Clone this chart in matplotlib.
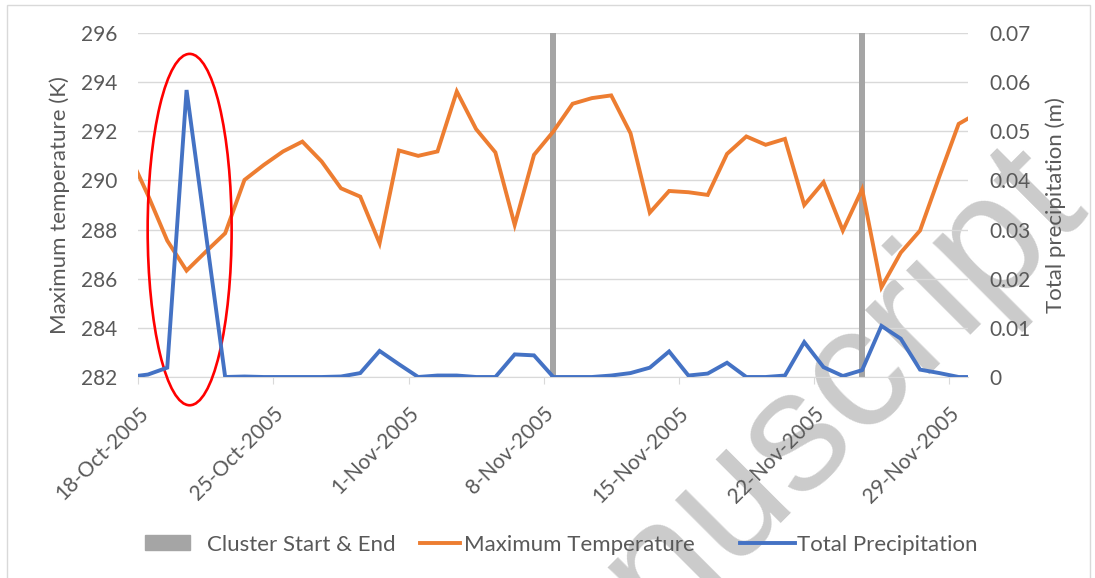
import numpy as np
import pandas as pd
import matplotlib
matplotlib.use('Agg')
import matplotlib.pyplot as plt
import matplotlib.dates as mdates
from matplotlib.patches import Ellipse, Rectangle
from matplotlib.lines import Line2D

# datos diarios (17-Oct-2005 .. 30-Nov-2005)
dates = pd.date_range('2005-10-17', '2005-11-30', freq='D')
max_temp = [291.1, 289.4, 287.55, 286.33, 287.1, 287.85, 290.02, 290.63, 291.18,
            291.58, 290.77, 289.68, 289.34, 287.44, 291.22, 291.0, 291.18, 293.62,
            292.09, 291.14, 288.19, 291.04, 291.99, 293.12, 293.35, 293.46, 291.92,
            288.69, 289.57, 289.52, 289.41, 291.08, 291.79, 291.45, 291.69, 289.0,
            289.93, 287.96, 289.64, 285.65, 287.06, 287.96, 290.16, 292.3, 292.75]
total_precip = [0.0, 0.0005, 0.0019, 0.0584, 0.0292, 0.0, 0.0001, 0.0, 0.0,
                0.0, 0.0, 0.0001, 0.0008, 0.0053, 0.0026, 0.0, 0.0003, 0.0003,
                0.0, 0.0, 0.0046, 0.0044, 0.0, 0.0, 0.0, 0.0003, 0.0008,
                0.0019, 0.0052, 0.0003, 0.0007, 0.0029, 0.0, 0.0, 0.0003, 0.0071,
                0.002, 0.0002, 0.0014, 0.0104, 0.0078, 0.0015, 0.0008, 0.0, 0.0]
cluster_dates = pd.to_datetime(['2005-11-08', '2005-11-24'])
tick_dates = pd.date_range('2005-10-18', periods=7, freq='7D')
temp_ticks = [282, 284, 286, 288, 290, 292, 294, 296]
precip_ticks = [0, 0.01, 0.02, 0.03, 0.04, 0.05, 0.06, 0.07]
legend_labels = ['Cluster Start & End', 'Maximum Temperature', 'Total Precipitation']

plt.rcParams['font.family'] = ['Lato', 'DejaVu Sans']
gris_texto = '#595959'
gris_linea = '#d9d9d9'
naranja = '#ED7D31'
azul = '#4472C4'
gris_barra = '#A5A5A5'

W, H = 1095, 578
fig = plt.figure(figsize=(W / 100, H / 100), dpi=100)

# marca de agua (detras de todo)
fig.text(759 / W, 1 - 471 / H, 'manuscript', rotation=45, fontsize=124,
         color='#cbcbcb', ha='center', va='center', family='Liberation Sans',
         zorder=-1)

# borde del area del grafico
fig.patches.append(Rectangle((7 / W, -0.1), (1090 - 7) / W, 1 - 5 / H + 0.1,
                             transform=fig.transFigure, fill=False,
                             ec=gris_linea, lw=1))

ax = fig.add_axes([138.3 / W, 1 - 377 / H, 830 / W, 344 / H])
ax.set_facecolor('none')
ax2 = ax.twinx()

mid = pd.Timedelta(hours=12)
x = dates + mid

# columnas "Cluster Start & End"
ax.bar(cluster_dates + mid, temp_ticks[-1] - temp_ticks[0], bottom=temp_ticks[0],
       width=0.3, color=gris_barra, zorder=2)
ax.plot(x, max_temp, color=naranja, lw=2.8, zorder=3, solid_joinstyle='miter')
ax2.plot(x, total_precip, color=azul, lw=2.8, zorder=3, solid_joinstyle='miter')

# elipse roja alrededor del pico
peak = x[int(np.argmax(total_precip))]
ell = Ellipse((mdates.date2num(peak) + 0.16, 288.0), 4.35, 14.3,
              fill=False, ec='red', lw=1.9, clip_on=False, zorder=5)
ax.add_patch(ell)

ax.set_xlim(tick_dates[0], pd.Timestamp('2005-11-30'))
ax.set_ylim(temp_ticks[0], temp_ticks[-1])
ax2.set_ylim(precip_ticks[0], precip_ticks[-1])
ax.set_yticks(temp_ticks)
ax2.set_yticks(precip_ticks)
ax2.set_yticklabels([f'{v:g}' for v in precip_ticks])
ax.set_xticks(tick_dates)
ax.xaxis.set_major_formatter(mdates.DateFormatter('%-d-%b-%Y'))

ax.yaxis.grid(True, color=gris_linea, lw=1)
ax.set_axisbelow(True)
for a in (ax, ax2):
    for s in ('left', 'right', 'top', 'bottom'):
        a.spines[s].set_visible(False)
ax.spines['bottom'].set_visible(True)
ax.spines['bottom'].set_color(gris_linea)

ax.tick_params(axis='y', length=0, pad=15, labelsize=15, labelcolor=gris_texto)
ax2.tick_params(axis='y', length=0, pad=15.5, labelsize=15, labelcolor=gris_texto)
ax.tick_params(axis='x', length=5, color=gris_linea, pad=14, labelsize=15,
               labelcolor=gris_texto)
plt.setp(ax.get_xticklabels(), rotation=45, ha='right', va='top',
         rotation_mode='anchor')

ax.set_ylabel('Maximum temperature (K)', fontsize=16, color=gris_texto)
ax.yaxis.set_label_coords(-0.0823, 0.5)
ax2.set_ylabel('Total precipitation (m)', fontsize=16, color=gris_texto)
ax2.yaxis.set_label_coords(1.0924, 0.5)

# leyenda (colocada a mano como en el original)
ly = 1 - 543 / H
fig.patches.append(Rectangle((145 / W, 1 - 550 / H), 45 / W, 15 / H,
                             transform=fig.transFigure, color=gris_barra))
fig.lines.append(Line2D([420 / W, 460 / W], [ly, ly], transform=fig.transFigure,
                        color=naranja, lw=2.8))
fig.lines.append(Line2D([740 / W, 795 / W], [ly, ly], transform=fig.transFigure,
                        color=azul, lw=2.8))
for xt, txt in zip([207, 464, 797], legend_labels):
    fig.text(xt / W, ly, txt, fontsize=16, color=gris_texto, ha='left',
             va='center_baseline')

fig.savefig('out.png', dpi=100)
